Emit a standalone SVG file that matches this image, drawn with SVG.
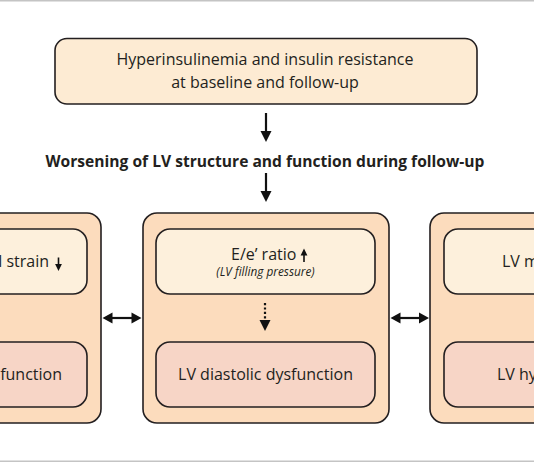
<svg xmlns="http://www.w3.org/2000/svg" width="534" height="462" viewBox="0 0 534 462">
<style>
.t{font-family:"Open Sans","Liberation Sans",sans-serif;fill:#231f20;font-size:16px}
.b{font-weight:bold;font-size:15.6px}
.i{font-style:italic;font-size:11.8px}
.box{stroke:#231f20;stroke-width:1.6}
.outer{fill:#fcdcbd}
.inA{fill:#fdf0dc}
.inB{fill:#f7d5c6}
.top{fill:#fdebd3}
.ln{stroke:#111;stroke-width:2.2;fill:none}
.hd{fill:#111}
</style>
<rect width="534" height="462" fill="#fff"/>
<line x1="0" y1="0.8" x2="534" y2="0.8" stroke="#c4c4c4" stroke-width="1.6"/>
<line x1="0" y1="461.2" x2="534" y2="461.2" stroke="#c4c4c4" stroke-width="1.6"/>

<g id="node-top">
<rect class="box top" x="55" y="38.5" width="422" height="65.5" rx="12"/>
<text class="t" x="265" y="65" text-anchor="middle">Hyperinsulinemia and insulin resistance</text>
<text class="t" x="265" y="88" text-anchor="middle">at baseline and follow-up</text>
</g>

<g id="node-worsening">
<text class="t b" x="265" y="167" text-anchor="middle">Worsening of LV structure and function during follow-up</text>
</g>

<g id="node-left">
<rect class="box outer" x="-145" y="213" width="246" height="210" rx="14"/>
<rect class="box inA" x="-132" y="229" width="219" height="65" rx="14"/>
<text class="t" x="49" y="267" text-anchor="end">LV global longitudinal strain</text>
<path class="hd" d="M57.7,257.5 h1.6 v6.5 h2.6 l-3.4,7 l-3.4,-7 h2.6z"/>
<rect class="box inB" x="-132" y="342" width="219" height="65" rx="14"/>
<text class="t" x="62" y="380" text-anchor="end">LV systolic dysfunction</text>
</g>

<g id="node-middle">
<rect class="box outer" x="143" y="213" width="246" height="210" rx="14"/>
<rect class="box inA" x="156" y="229" width="219" height="65" rx="14"/>
<text class="t" x="231" y="260">E/e’ ratio</text>
<path class="hd" d="M303.2,262 h1.6 v-6.5 h2.6 l-3.4,-7 l-3.4,7 h2.6z"/>
<text class="t i" x="265.5" y="276" text-anchor="middle">(LV filling pressure)</text>
<rect class="box inB" x="156" y="342" width="219" height="65" rx="14"/>
<text class="t" x="265.5" y="380" text-anchor="middle">LV diastolic dysfunction</text>
</g>

<g id="node-right">
<rect class="box outer" x="430" y="213" width="246" height="210" rx="14"/>
<rect class="box inA" x="444" y="229" width="219" height="65" rx="14"/>
<text class="t" x="502" y="267">LV mass index</text>
<rect class="box inB" x="444" y="342" width="219" height="65" rx="14"/>
<text class="t" x="497" y="380">LV hypertrophy</text>
</g>

<g id="connectors">
<line class="ln" x1="266" y1="113" x2="266" y2="133"/>
<path class="hd" d="M260.5,131 h11 l-5.5,11z"/>
<line class="ln" x1="266" y1="173" x2="266" y2="193"/>
<path class="hd" d="M260.5,191 h11 l-5.5,11z"/>
<line class="ln" x1="265" y1="303" x2="265" y2="321" stroke-dasharray="2.2,2.2"/>
<path class="hd" d="M259.5,320 h11 l-5.5,11z"/>
<line class="ln" x1="110" y1="318" x2="134" y2="318"/>
<path class="hd" d="M102.5,318 l10,-5.5 v11z M141.5,318 l-10,-5.5 v11z"/>
<line class="ln" x1="398" y1="318" x2="421" y2="318"/>
<path class="hd" d="M390.5,318 l10,-5.5 v11z M429,318 l-10,-5.5 v11z"/>
</g>
</svg>
